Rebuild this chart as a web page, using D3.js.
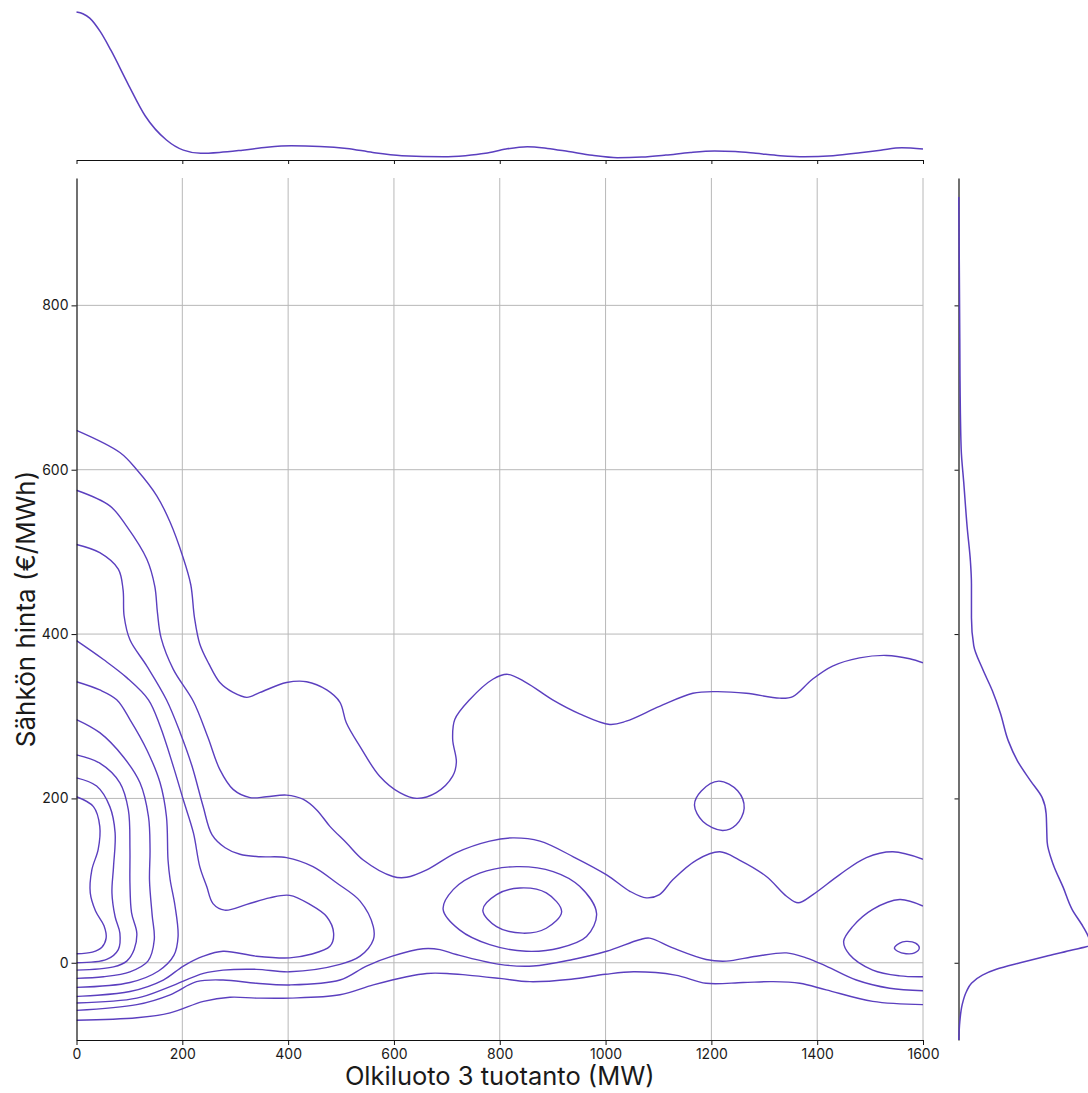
<!DOCTYPE html>
<html><head><meta charset="utf-8">
<script src="https://cdn.jsdelivr.net/npm/d3@7"></script>
<style>
html,body{margin:0;padding:0;background:#fff;}
svg{display:block;}
text{font-family:Inter,"DejaVu Sans",sans-serif;fill:#1a1a1a;}
</style></head>
<body><svg id="chart" width="1088" height="1093"></svg>
<script>
// ---------- data (MW, €/MWh) ----------
const xTicks = [0,200,400,600,800,1000,1200,1400,1600];
const yTicks = [0,200,400,600,800];
const xLabel = "Olkiluoto 3 tuotanto (MW)";
const yLabel = "Sähkön hinta (€/MWh)";

// KDE iso-lines (open lines end on the plot edges)
const contourA_upper = [[0,648],[82,621],[114,600],[152,568],[177,536],[201,494],[216,460],[223,420],[233,388],[250,364],[271,341],[296,329],[322,323],[347,329],[397,341],[435,342],[473,332],[498,317],[510,292],[536,263],[573,227],[611,207],[643,200],[680,207],[711,227],[718,244],[711,272],[715,296],[743,320],[787,345],[815,351],[850,341],[900,320],[951,303],[1008,290],[1039,294],[1102,312],[1165,328],[1209,330],[1266,328],[1329,322],[1354,324],[1391,345],[1429,361],[1480,371],[1531,374],[1575,370],[1600,365]];
const contourA_lower = [[0,-70],[114,-67],[177,-61],[240,-47],[290,-42],[340,-43],[403,-43],[498,-39],[561,-27],[624,-17],[662,-13],[700,-13],[739,-15],[800,-19],[857,-23],[935,-20],[1000,-14],[1053,-11],[1132,-15],[1190,-25],[1260,-24],[1316,-23],[1367,-25],[1417,-33],[1505,-47],[1600,-51]];
const contourB_upper = [[0,575],[63,556],[95,531],[133,491],[148,458],[153,426],[160,395],[183,357],[221,318],[248,275],[271,235],[296,211],[328,201],[359,202],[397,204],[428,199],[454,186],[479,166],[510,146],[542,125],[598,105],[624,104],[662,113],[718,134],[781,148],[825,152],[876,148],[939,129],[1002,107],[1046,87],[1077,79],[1102,83],[1127,101],[1172,125],[1216,135],[1253,125],[1304,105],[1342,81],[1364,73],[1392,83],[1442,107],[1493,128],[1543,135],[1600,126]];
const contourB_lower = [[0,-58],[114,-51],[177,-39],[227,-23],[277,-21],[340,-25],[403,-27],[498,-21],[548,-4],[597,8],[655,17],[687,16],[718,10],[800,-2],[863,-4],[938,4],[1002,14],[1064,28],[1083,30],[1127,18],[1190,4],[1228,2],[1285,8],[1342,12],[1379,6],[1417,-4],[1474,-21],[1537,-31],[1600,-34]];
const contourC = [[0,509],[44,499],[79,479],[88,454],[90,422],[101,393],[133,361],[170,320],[196,280],[218,240],[239,191],[256,156],[281,140],[309,132],[347,129],[397,128],[447,117],[492,97],[536,75],[561,44],[561,28],[536,8],[498,-2],[403,-11],[340,-8],[277,-9],[240,-13],[177,-29],[114,-43],[0,-49]];
const contourD = [[0,392],[51,369],[95,347],[136,320],[158,288],[183,239],[202,198],[221,158],[233,117],[246,93],[258,72],[280,64],[322,71],[365,79],[403,82],[441,71],[473,56],[486,36],[479,20],[441,10],[403,6],[340,8],[277,14],[240,8],[202,-4],[164,-21],[101,-35],[0,-41]];
const contourE = [[0,342],[44,332],[76,320],[101,296],[133,259],[158,219],[170,178],[173,125],[177,101],[186,70],[192,32],[184,9],[155,-10],[101,-24],[0,-30]];
const contourF = [[0,296],[44,280],[88,251],[120,219],[136,178],[139,138],[138,100],[143,58],[147,28],[135,2],[101,-11],[51,-17],[0,-19]];
const contourG = [[0,253],[44,243],[82,219],[98,186],[101,138],[101,97],[104,61],[114,36],[109,16],[95,2],[70,-5],[0,-9]];
const contourH = [[0,225],[38,215],[63,190],[73,158],[70,117],[67,85],[73,56],[82,36],[79,16],[57,4],[0,0]];
const contourI = [[0,202],[32,190],[44,166],[41,138],[29,113],[26,85],[36,63],[52,45],[56,30],[48,19],[30,13],[0,11]];
const contourR1 = [[1600,69],[1556,77],[1505,65],[1467,44],[1450,26],[1461,10],[1505,-9],[1556,-16],[1600,-17]];
// closed iso-lines
const loopM1 = [[693,65],[712,89],[762,109],[832,117],[901,111],[951,93],[983,60],[964,32],[913,18],[850,14],[781,22],[724,40]];
const loopM2 = [[768,64],[794,83],[838,91],[888,85],[917,62],[888,42],[844,36],[794,44]];
const loopCircle = [[1214,221],[1250,209],[1262,188],[1247,168],[1221,161],[1184,172],[1168,192],[1181,209]];
const loopR2 = [[1546,18],[1556,24],[1568,26],[1586,24],[1593,18],[1584,12],[1568,11],[1552,14]];

// marginal densities (relative units)
const xMarginal = [[0,51.1],[12,50.5],[25,49.0],[45,44.3],[65,37.9],[97,26.4],[130,15.2],[170,6.9],[202,3.4],[235,2.3],[270,2.6],[314,3.4],[360,4.4],[406,4.9],[460,4.7],[511,4.0],[560,2.6],[615,1.5],[694,1.1],[735,1.5],[773,2.3],[812,3.8],[852,4.6],[890,4.0],[930,2.9],[975,1.6],[1022,0.8],[1068,1.0],[1114,1.7],[1160,2.6],[1206,3.1],[1245,2.9],[1284,2.3],[1330,1.5],[1376,1.1],[1430,1.5],[1481,2.5],[1520,3.4],[1560,4.2],[1600,3.8]];
const yMarginal = [[-94,0.3],[-72,1.3],[-51,3.7],[-35,8],[-25,13],[-15,24],[-8,38],[0,62],[8,88],[15,112],[22,133],[30,131],[44,125],[65,114],[92,105],[120,95],[147,89],[165,88.5],[181,88],[201,84],[222,72],[246,59],[270,50],[304,42],[331,34],[358,24],[386,15.3],[420,13],[461,13],[488,12],[530,8.7],[584,5.3],[625,2.7],[700,1.6],[760,1.3],[850,0.8],[932,0.3]];

// ---------- drawing ----------
const color = "#5b3fbf";
const svg = d3.select("#chart");
const x = d3.scaleLinear().domain([0,1600]).range([76.5,923]);
const y = d3.scaleLinear().domain([-94,955]).range([1040,178]);
const yTop = d3.scaleLinear().domain([0,51.1]).range([160,12]);
const xRight = d3.scaleLinear().domain([0,130]).range([958.5,1088]);

svg.append("defs").append("clipPath").attr("id","mainClip")
  .append("rect").attr("x",x(0)).attr("y",y(955)).attr("width",x(1600)-x(0)).attr("height",y(-94)-y(955));

// grid
const grid = svg.append("g").attr("stroke","#b8b8b8").attr("stroke-width",1);
grid.selectAll(".gx").data(xTicks.filter(d=>d>0)).join("line")
  .attr("x1",d=>x(d)).attr("x2",d=>x(d)).attr("y1",y(955)).attr("y2",y(-94));
grid.selectAll(".gy").data(yTicks).join("line")
  .attr("x1",x(0)).attr("x2",x(1600)).attr("y1",d=>y(d)).attr("y2",d=>y(d));

// contours
const lineOpen = d3.line().x(d=>x(d[0])).y(d=>y(d[1])).curve(d3.curveCatmullRom.alpha(0.5));
const lineClosed = d3.line().x(d=>x(d[0])).y(d=>y(d[1])).curve(d3.curveCatmullRomClosed.alpha(0.5));
const openLines = [contourA_upper,contourA_lower,contourB_upper,contourB_lower,contourC,contourD,contourE,contourF,contourG,contourH,contourI,contourR1];
const closedLines = [loopM1,loopM2,loopCircle,loopR2];
const cg = svg.append("g").attr("clip-path","url(#mainClip)")
  .attr("fill","none").attr("stroke",color).attr("stroke-width",1.4);
cg.selectAll(".o").data(openLines).join("path").attr("d",lineOpen);
cg.selectAll(".c").data(closedLines).join("path").attr("d",lineClosed);

// axes main
function styleAxis(g){
  g.selectAll(".domain").attr("stroke","#111").attr("stroke-width",1.2);
  g.selectAll(".tick line").attr("stroke","#111").attr("stroke-width",1);
  g.selectAll(".tick text").attr("font-size",14).attr("font-family","Inter,DejaVu Sans,sans-serif").attr("fill","#1a1a1a");
}
svg.append("g").attr("transform",`translate(0,${y(-94)})`)
  .call(d3.axisBottom(x).tickValues(xTicks).tickSize(5).tickSizeOuter(0).tickPadding(4).tickFormat(d3.format("d")))
  .call(styleAxis);
svg.append("g").attr("transform",`translate(${x(0)},0)`)
  .call(d3.axisLeft(y).tickValues(yTicks).tickSize(5).tickSizeOuter(0).tickPadding(3).tickFormat(d3.format("d")))
  .call(styleAxis);

// top marginal
svg.append("g").attr("transform",`translate(0,${yTop(0)})`)
  .call(d3.axisBottom(x).tickValues(xTicks).tickSize(4).tickSizeOuter(0).tickFormat(""))
  .call(styleAxis);
svg.append("path").datum(xMarginal)
  .attr("fill","none").attr("stroke",color).attr("stroke-width",1.5)
  .attr("d",d3.line().x(d=>x(d[0])).y(d=>yTop(d[1])).curve(d3.curveMonotoneX));

// right marginal
svg.append("g").attr("transform",`translate(${xRight(0)},0)`)
  .call(d3.axisLeft(y).tickValues(yTicks).tickSize(4).tickSizeOuter(0).tickFormat(""))
  .call(styleAxis);
svg.append("path").datum(yMarginal)
  .attr("fill","none").attr("stroke",color).attr("stroke-width",1.5)
  .attr("d",d3.line().x(d=>xRight(d[1])).y(d=>y(d[0])).curve(d3.curveMonotoneY));

// labels
svg.append("text").attr("x",(x(0)+x(1600))/2).attr("y",1085)
  .attr("text-anchor","middle").attr("font-size",25.5).text(xLabel);
svg.append("text").attr("transform",`translate(35,${(y(-94)+y(955))/2}) rotate(-90)`)
  .attr("text-anchor","middle").attr("font-size",26).text(yLabel);
</script>
</body></html>
